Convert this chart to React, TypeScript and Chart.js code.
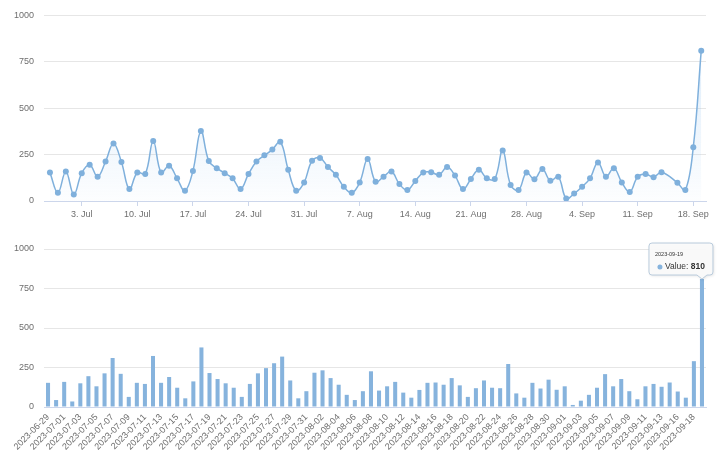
import React, { useEffect, useRef } from "react";
import { Chart, registerables } from "chart.js";

Chart.register(...registerables);

const categories = [
  "2023-06-29", "2023-06-30",
  "2023-07-01", "2023-07-02", "2023-07-03", "2023-07-04", "2023-07-05", "2023-07-06", "2023-07-07", "2023-07-08",
  "2023-07-09", "2023-07-10", "2023-07-11", "2023-07-12", "2023-07-13", "2023-07-14", "2023-07-15", "2023-07-16",
  "2023-07-17", "2023-07-18", "2023-07-19", "2023-07-20", "2023-07-21", "2023-07-22", "2023-07-23", "2023-07-24",
  "2023-07-25", "2023-07-26", "2023-07-27", "2023-07-28", "2023-07-29", "2023-07-30", "2023-07-31",
  "2023-08-01", "2023-08-02", "2023-08-03", "2023-08-04", "2023-08-05", "2023-08-06", "2023-08-07", "2023-08-08",
  "2023-08-09", "2023-08-10", "2023-08-11", "2023-08-12", "2023-08-13", "2023-08-14", "2023-08-15", "2023-08-16",
  "2023-08-17", "2023-08-18", "2023-08-19", "2023-08-20", "2023-08-21", "2023-08-22", "2023-08-23", "2023-08-24",
  "2023-08-25", "2023-08-26", "2023-08-27", "2023-08-28", "2023-08-29", "2023-08-30", "2023-08-31",
  "2023-09-01", "2023-09-02", "2023-09-03", "2023-09-04", "2023-09-05", "2023-09-06", "2023-09-07", "2023-09-08",
  "2023-09-09", "2023-09-10", "2023-09-11", "2023-09-12", "2023-09-13", "2023-09-14",
  "2023-09-16", "2023-09-17", "2023-09-18", "2023-09-19",
];

const values = [
  153, 44, 159, 35, 150, 195, 131, 213, 310, 210,
  64, 153, 146, 323, 153, 190, 122, 55, 162, 377,
  215, 177, 150, 122, 64, 146, 213, 246, 277, 319,
  168, 55, 100, 217, 232, 183, 141, 77, 44, 100,
  226, 104, 131, 159, 91, 59, 108, 153, 155, 141,
  183, 137, 64, 119, 168, 122, 119, 272, 86, 59,
  153, 117, 173, 109, 131, 13, 40, 77, 122, 208,
  131, 177, 100, 49, 131, 146, 128, 155, 98, 59,
  290, 810,
];

const weekTickDates = [
  "2023-07-03", "2023-07-10", "2023-07-17", "2023-07-24", "2023-07-31", "2023-08-07",
  "2023-08-14", "2023-08-21", "2023-08-28", "2023-09-04", "2023-09-11", "2023-09-18",
];
const weekTickLabels = [
  "3. Jul", "10. Jul", "17. Jul", "24. Jul", "31. Jul", "7. Aug",
  "14. Aug", "21. Aug", "28. Aug", "4. Sep", "11. Sep", "18. Sep",
];

const seriesName = "Value";
const tooltipIndex = categories.length - 1;

const FONT = "'Liberation Sans', Arial, sans-serif";
const TICK_COLOR = "#6e6e6e";
const GRID_COLOR = "#e6e6e6";
const AXIS_COLOR = "#ccd6eb";
const LINE_COLOR = "#7fb0dc";
const BAR_COLOR = "#86b3dd";

const dayIndex = (d: string) =>
  Math.round((Date.parse(d) - Date.parse(categories[0])) / 86400000);

const yScale = {
  min: 0,
  max: 1000,
  ticks: {
    stepSize: 250,
    padding: 10,
    color: TICK_COLOR,
    font: { family: FONT, size: 9 },
    callback: (v: any) => String(v),
  },
  grid: { color: GRID_COLOR, drawTicks: false },
  border: { display: false },
  afterFit: (s: any) => {
    s.width = 44;
  },
};

const tooltipPlugin = {
  id: "fixedTooltip",
  afterDraw(chart: any) {
    const el = chart.getDatasetMeta(0).data[tooltipIndex];
    if (!el) return;
    const x = el.x;
    const y = el.y;
    const ctx = chart.ctx;
    const w = 64;
    const h = 32;
    const right = x + 11;
    const left = right - w;
    const bottom = y - 4;
    const top = bottom - h;
    const r = 3;
    const cw = 5;
    ctx.save();
    ctx.beginPath();
    ctx.moveTo(left + r, top);
    ctx.lineTo(right - r, top);
    ctx.arcTo(right, top, right, top + r, r);
    ctx.lineTo(right, bottom - r);
    ctx.arcTo(right, bottom, right - r, bottom, r);
    ctx.lineTo(x + cw, bottom);
    ctx.lineTo(x, y);
    ctx.lineTo(x - cw, bottom);
    ctx.lineTo(left + r, bottom);
    ctx.arcTo(left, bottom, left, bottom - r, r);
    ctx.lineTo(left, top + r);
    ctx.arcTo(left, top, left + r, top, r);
    ctx.closePath();
    ctx.shadowColor = "rgba(0,0,0,0.12)";
    ctx.shadowBlur = 3;
    ctx.shadowOffsetX = 1;
    ctx.shadowOffsetY = 1;
    ctx.fillStyle = "rgba(250,250,250,0.95)";
    ctx.fill();
    ctx.shadowColor = "transparent";
    ctx.lineWidth = 1;
    ctx.strokeStyle = "#b9cbdc";
    ctx.stroke();

    ctx.textBaseline = "middle";
    ctx.textAlign = "left";
    ctx.fillStyle = "#333333";
    ctx.font = `5.5px ${FONT}`;
    ctx.fillText(categories[tooltipIndex], left + 6, top + 11);

    ctx.beginPath();
    ctx.fillStyle = BAR_COLOR;
    ctx.arc(left + 11, top + 24, 2.5, 0, Math.PI * 2);
    ctx.fill();

    ctx.fillStyle = "#333333";
    ctx.font = `8.5px ${FONT}`;
    const lbl = seriesName + ": ";
    ctx.fillText(lbl, left + 16, top + 24);
    const lw = ctx.measureText(lbl).width;
    ctx.font = `bold 8.5px ${FONT}`;
    ctx.fillText(String(values[tooltipIndex]), left + 16 + lw, top + 24);
    ctx.restore();
  },
};

export default function App() {
  const topRef = useRef<HTMLCanvasElement | null>(null);
  const botRef = useRef<HTMLCanvasElement | null>(null);

  useEffect(() => {
    if (!topRef.current || !botRef.current) return;

    const lineChart = new Chart(topRef.current, {
      type: "line",
      data: {
        datasets: [
          {
            label: seriesName,
            data: categories.map((d, i) => ({ x: dayIndex(d), y: values[i] })),
            borderColor: LINE_COLOR,
            borderWidth: 1.5,
            tension: 0.4,
            pointRadius: 3,
            pointBorderWidth: 0,
            pointBackgroundColor: LINE_COLOR,
            fill: "origin",
            backgroundColor: (c: any) => {
              const area = c.chart.chartArea;
              if (!area) return "rgba(124,181,236,0.08)";
              const g = c.chart.ctx.createLinearGradient(0, area.top, 0, area.bottom);
              g.addColorStop(0, "rgba(124,181,236,0.3)");
              g.addColorStop(1, "rgba(124,181,236,0.02)");
              return g;
            },
          },
        ],
      },
      options: {
        animation: false,
        responsive: false,
        layout: { padding: { top: 15, right: 14, left: 0, bottom: 0 } },
        plugins: { legend: { display: false }, tooltip: { enabled: false } },
        scales: {
          x: {
            type: "linear",
            min: -0.75,
            max: 82.6,
            afterBuildTicks: (s: any) => {
              s.ticks = weekTickDates.map((d) => ({ value: dayIndex(d) }));
            },
            ticks: {
              autoSkip: false,
              maxRotation: 0,
              padding: 3,
              color: TICK_COLOR,
              font: { family: FONT, size: 9 },
              callback: (_v: any, i: number) => weekTickLabels[i],
            },
            grid: { drawOnChartArea: false, tickLength: 5, color: AXIS_COLOR },
            border: { color: AXIS_COLOR },
            afterFit: (s: any) => {
              s.height = 21;
            },
          },
          y: yScale as any,
        },
      },
    });

    const barChart = new Chart(botRef.current, {
      type: "bar",
      data: {
        labels: categories,
        datasets: [
          {
            label: seriesName,
            data: values,
            backgroundColor: BAR_COLOR,
            barPercentage: 0.5,
            categoryPercentage: 1,
          },
        ],
      },
      options: {
        animation: false,
        responsive: false,
        layout: { padding: { top: 19, right: 14, left: 0, bottom: 0 } },
        plugins: { legend: { display: false }, tooltip: { enabled: false } },
        scales: {
          x: {
            type: "category",
            offset: true,
            ticks: {
              autoSkip: false,
              minRotation: 45,
              maxRotation: 45,
              padding: 5,
              color: TICK_COLOR,
              font: { family: FONT, size: 9 },
              callback: (_v: any, i: number) => (i % 2 === 0 ? categories[i] : null),
            },
            grid: { display: false, drawTicks: false },
            border: { color: AXIS_COLOR },
            afterFit: (s: any) => {
              s.height = 60;
            },
          },
          y: yScale as any,
        },
      },
      plugins: [tooltipPlugin],
    });

    return () => {
      lineChart.destroy();
      barChart.destroy();
    };
  }, []);

  return (
    <div
      style={{
        position: "absolute",
        left: 0,
        top: 0,
        width: 720,
        height: 467,
        background: "#ffffff",
        overflow: "hidden",
      }}
    >
      <canvas
        ref={topRef}
        width={720}
        height={222}
        style={{ position: "absolute", left: 0, top: 0, width: 720, height: 222 }}
      />
      <canvas
        ref={botRef}
        width={720}
        height={237}
        style={{ position: "absolute", left: 0, top: 230, width: 720, height: 237 }}
      />
    </div>
  );
}
